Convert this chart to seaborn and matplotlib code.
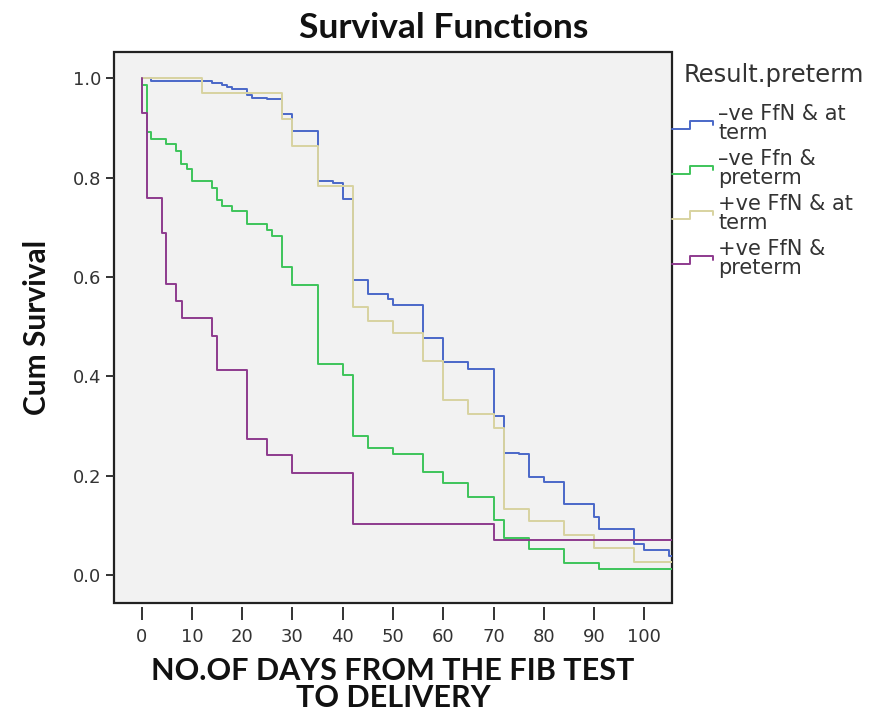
import numpy as np
import pandas as pd
import matplotlib
matplotlib.use("Agg")
import matplotlib.pyplot as plt
import seaborn as sns
from matplotlib.lines import Line2D
from matplotlib.legend_handler import HandlerLine2D

# ---------------- data ----------------
groups = ["\u2013ve FfN & at\nterm", "\u2013ve Ffn &\npreterm",
          "+ve FfN & at\nterm", "+ve FfN &\npreterm"]

t_neg_term = [0, 1.8, 14, 16, 17, 18, 21, 22, 25, 28, 30, 35, 38, 40, 42, 45, 49,
              50, 56, 60, 65, 70, 72, 75, 77, 80, 84, 90, 91, 98, 100, 105]
s_neg_term = [1.0, 0.994, 0.990, 0.987, 0.982, 0.979, 0.967, 0.961, 0.958, 0.928,
              0.893, 0.794, 0.790, 0.757, 0.594, 0.565, 0.556, 0.544, 0.477, 0.430,
              0.415, 0.320, 0.246, 0.244, 0.197, 0.187, 0.143, 0.117, 0.092, 0.062,
              0.050, 0.038]

t_neg_pre = [0, 0, 1, 1.8, 4.9, 6.9, 7.9, 9, 10, 14, 15, 16, 18, 21, 25, 26, 28, 30,
             35, 40, 42, 45, 50, 56, 60, 65, 70, 72, 77, 84, 91]
s_neg_pre = [1.0, 0.987, 0.891, 0.878, 0.868, 0.854, 0.827, 0.817, 0.794, 0.779,
             0.755, 0.744, 0.732, 0.706, 0.695, 0.683, 0.621, 0.585, 0.426, 0.403,
             0.280, 0.256, 0.244, 0.208, 0.185, 0.158, 0.111, 0.074, 0.052, 0.024,
             0.013]

t_pos_term = [0, 12, 28, 30, 35, 42, 45, 50, 56, 60, 65, 70, 72, 77, 84, 90, 98]
s_pos_term = [1.0, 0.971, 0.918, 0.863, 0.783, 0.540, 0.512, 0.487, 0.432, 0.352,
              0.324, 0.297, 0.134, 0.109, 0.081, 0.054, 0.027]

t_pos_pre = [0, 0, 1, 4.1, 4.9, 6.9, 8, 14, 15, 21, 25, 30, 42, 70]
s_pos_pre = [1.0, 0.931, 0.760, 0.689, 0.586, 0.552, 0.517, 0.482, 0.413, 0.275,
             0.242, 0.206, 0.104, 0.070]

x_ticks = [0, 10, 20, 30, 40, 50, 60, 70, 80, 90, 100]
y_ticks = [0.0, 0.2, 0.4, 0.6, 0.8, 1.0]

colors = ["#4a68c8", "#3ec45a", "#d8d3a0", "#8e3a8e"]

XMIN, XMAX = -5.5, 105.5
YMIN, YMAX = -0.056, 1.053

# ---------------- build long table ----------------
rows = []
for g, ts, ss in zip(groups, [t_neg_term, t_neg_pre, t_pos_term, t_pos_pre],
                     [s_neg_term, s_neg_pre, s_pos_term, s_pos_pre]):
    for t, s in zip(ts, ss):
        rows.append((g, t, s))
    rows.append((g, XMAX + 1, ss[-1]))  # carry last value to the right edge
df = pd.DataFrame(rows, columns=["group", "days", "surv"])

# ---------------- plot ----------------
sns.set_theme(style="white")
plt.rcParams["font.family"] = ["DejaVu Sans"]

fig = plt.figure(figsize=(8.78, 7.11), dpi=100)
ax = fig.add_axes([114 / 878, 1 - 603 / 711, (672 - 114) / 878, (603 - 52) / 711])

sns.lineplot(data=df, x="days", y="surv", hue="group", hue_order=groups,
             palette=colors, estimator=None, sort=False, drawstyle="steps-post",
             linewidth=1.4, ax=ax, legend=False)

ax.set_xlim(XMIN, XMAX)
ax.set_ylim(YMIN, YMAX)
ax.set_facecolor("#f2f2f2")
ax.set_xticks(x_ticks)
ax.set_yticks(y_ticks)
ax.set_yticklabels([f"{v:.1f}" for v in y_ticks])

for sp in ax.spines.values():
    sp.set_visible(False)
ax.patch.set_edgecolor("#222222")
ax.patch.set_linewidth(1.6)
ax.spines["bottom"].set_position(("outward", 3))

ax.tick_params(axis="x", direction="out", length=9, width=1.4, color="#333333",
               labelsize=13, labelcolor="#333333", pad=6, bottom=True)
ax.tick_params(axis="y", direction="out", length=6, width=1.4, color="#333333",
               labelsize=13, labelcolor="#333333", pad=3, left=True)

ax.set_xlabel("NO.OF DAYS FROM THE FIB TEST\nTO DELIVERY", fontsize=22,
              fontweight="bold", family=["Lato", "DejaVu Sans"], labelpad=8,
              linespacing=0.95, color="#111111")
ax.set_ylabel("Cum Survival", fontsize=21.5, fontweight="bold",
              family=["Lato", "DejaVu Sans"], labelpad=16, color="#111111")

fig.text(0.505, 0.96, "Survival Functions", ha="center", va="center",
         fontsize=25.5, fontweight="bold", family=["Lato", "DejaVu Sans"],
         color="#111111")

# legend title as separate text
fig.text(684 / 878, 1 - 75 / 711, "Result.preterm", ha="left", va="center",
         fontsize=17.5, color="#333333")


class HandlerStep(HandlerLine2D):
    def create_artists(self, legend, orig_handle, xdescent, ydescent, width,
                       height, fontsize, trans):
        xs = np.array([0, 0.45, 0.45, 1.0, 1.0]) * width - xdescent
        ys = np.array([0.2, 0.2, 0.75, 0.75, 0.45]) * height - ydescent
        ln = Line2D(xs, ys, color=orig_handle.get_color(), linewidth=1.4)
        ln.set_transform(trans)
        return [ln]


handles = [Line2D([], [], color=c) for c in colors]
leg = fig.legend(handles, groups, loc="upper left",
                 bbox_to_anchor=(672 / 878, 1 - 104 / 711), frameon=False,
                 fontsize=15, handlelength=1.97, handletextpad=0.25,
                 borderpad=0, borderaxespad=0, labelspacing=0.3,
                 handler_map={Line2D: HandlerStep()})
for txt in leg.get_texts():
    txt.set_color("#333333")
    txt.set_linespacing(0.93)

fig.savefig("out.png", dpi=100, facecolor="white")
